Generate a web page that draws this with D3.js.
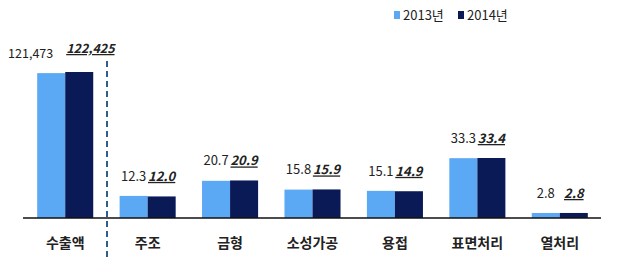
<!DOCTYPE html>
<html>
<head>
<meta charset="utf-8">
<script src="https://cdn.jsdelivr.net/npm/d3@7"></script>
<style>
  body { margin: 0; background: #fff; }
  text { font-family: "Noto Sans CJK KR", "Noto Sans", sans-serif; }
</style>
</head>
<body>
<div class="chart"></div>
<script>
// data
var categories = ["수출액", "주조", "금형", "소성가공", "용접", "표면처리", "열처리"];
var series = ["2013년", "2014년"];
var values2013 = [121473, 12.3, 20.7, 15.8, 15.1, 33.3, 2.8];
var values2014 = [122425, 12.0, 20.9, 15.9, 14.9, 33.4, 2.8];
var colors = ["#5ba8f4", "#0a1a57"];

var width = 620, height = 259;
var baseY = 218;

var svg = d3.select(".chart").append("svg")
    .attr("width", width).attr("height", height);

var x0 = d3.scaleBand().domain(categories).range([24, 601]).paddingInner(0.32).paddingOuter(0.16);
var x1 = d3.scaleBand().domain(series).range([0, x0.bandwidth()]);

// export value on its own scale, the rest in percent
var yExport = d3.scaleLinear().domain([0, 122425]).range([baseY, 72]);
var yPct = d3.scaleLinear().domain([0, 33.4]).range([baseY, 158]);

function yFor(cat, v) {
    return cat === "수출액" ? yExport(v) : yPct(v);
}
function fmt(cat, v) {
    return cat === "수출액" ? d3.format(",")(v) : d3.format(".1f")(v);
}

var rows = categories.map(function(c, i) {
    return { cat: c, vals: [values2013[i], values2014[i]] };
});

var groups = svg.selectAll(".grp").data(rows).enter().append("g")
    .attr("transform", function(d) { return "translate(" + x0(d.cat) + ",0)"; });

groups.selectAll("rect").data(function(d) {
    return d.vals.map(function(v, j) { return { cat: d.cat, s: series[j], v: v, j: j }; });
}).enter().append("rect")
    .attr("x", function(d) { return x1(d.s); })
    .attr("y", function(d) { return yFor(d.cat, d.v); })
    .attr("width", x1.bandwidth())
    .attr("height", function(d) { return baseY - yFor(d.cat, d.v); })
    .attr("fill", function(d) { return colors[d.j]; });

// value labels
groups.each(function(d) {
    var g = d3.select(this);
    var tops = d.vals.map(function(v) { return yFor(d.cat, v); });
    var common = Math.min(tops[0], tops[1]) - 15;
    var big = d.cat === "수출액";
    d.vals.forEach(function(v, j) {
        var t = g.append("text")
            .attr("font-size", big ? 12.5 : 13)
            .attr("fill", "#222")
            .text(fmt(d.cat, v));
        if (big) {
            // wide numbers: push apart so they sit side by side
            t.attr("x", j === 0 ? x1.bandwidth() - 12 : x1(series[1]) + 1)
             .attr("y", tops[j] - (j === 0 ? 15 : 19))
             .attr("text-anchor", j === 0 ? "end" : "start");
        } else {
            t.attr("x", x1(series[j]) + x1.bandwidth() / 2)
             .attr("y", common)
             .attr("text-anchor", "middle");
        }
        if (j === 1) {
            t.attr("font-weight", "bold").attr("font-style", "italic")
             .attr("text-decoration", "underline");
        }
    });
});

// baseline
svg.append("line")
    .attr("x1", 23).attr("x2", 601)
    .attr("y1", baseY).attr("y2", baseY)
    .attr("stroke", "#111").attr("stroke-width", 1.5);

// category labels
svg.selectAll(".cat").data(categories).enter().append("text")
    .attr("x", function(d) { return x0(d) + x0.bandwidth() / 2; })
    .attr("y", 248)
    .attr("text-anchor", "middle")
    .attr("font-size", 14)
    .attr("font-weight", "bold")
    .attr("fill", "#222")
    .text(function(d) { return d; });

// divider between export and processes
svg.append("line")
    .attr("x1", 107).attr("x2", 107)
    .attr("y1", 61).attr("y2", 259)
    .attr("stroke", "#2f5e8e").attr("stroke-width", 2)
    .attr("stroke-dasharray", "6,4");

// legend
var legend = svg.selectAll(".leg").data(series).enter().append("g")
    .attr("transform", function(d, i) { return "translate(" + (394 + i * 64) + ",11)"; });
legend.append("rect").attr("width", 6).attr("height", 8)
    .attr("fill", function(d, i) { return colors[i]; });
legend.append("text").attr("x", 9).attr("y", 9)
    .attr("font-size", 13).attr("fill", "#222")
    .text(function(d) { return d; });
</script>
</body>
</html>
